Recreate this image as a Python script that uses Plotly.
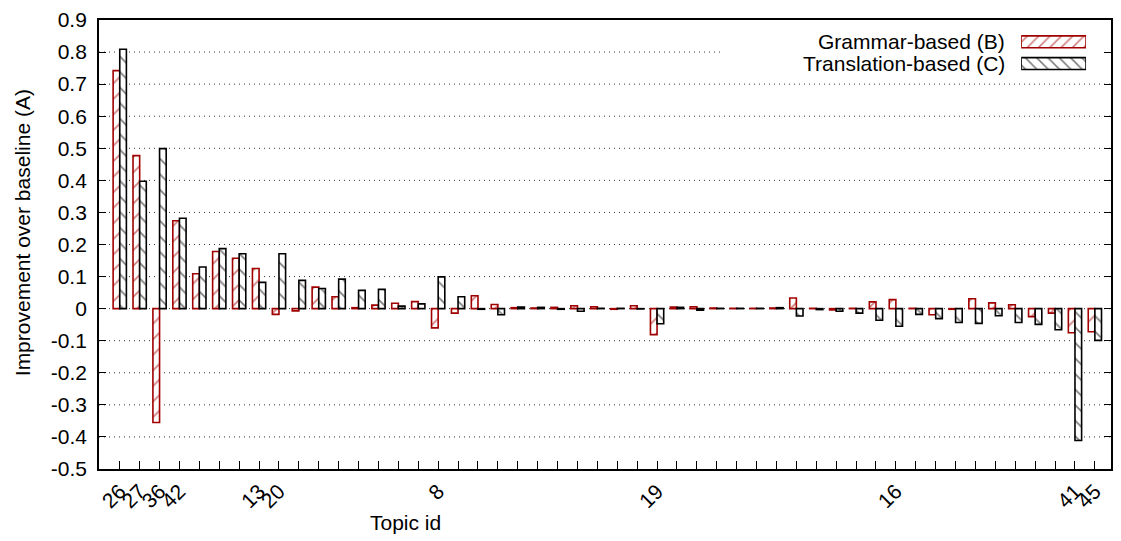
import plotly.graph_objects as go

# ---------------- data ----------------
positions = list(range(50))
topic_labels = ["26", "27", "36", "42", "", "", "", "13", "20", "",
                "", "", "", "", "", "", "8", "", "", "",
                "", "", "", "", "", "", "", "19", "", "",
                "", "", "", "", "", "", "", "", "", "16",
                "", "", "", "", "", "", "", "", "41", "45"]
grammar_b = [0.742, 0.477, -0.355, 0.274, 0.109, 0.178, 0.157, 0.125, -0.018, -0.007,
             0.067, 0.037, 0.003, 0.011, 0.017, 0.022, -0.060, -0.014, 0.040, 0.013,
             0.003, 0.002, 0.004, 0.009, 0.006, -0.002, 0.009, -0.081, 0.005, 0.006,
             0.002, 0.001, 0.001, 0.002, 0.033, 0.001, -0.004, 0.001, 0.021, 0.028,
             0.001, -0.019, -0.002, 0.031, 0.018, 0.012, -0.025, -0.014, -0.075, -0.072]
translation_c = [0.809, 0.397, 0.499, 0.282, 0.130, 0.187, 0.171, 0.082, 0.171, 0.088,
                 0.063, 0.092, 0.057, 0.060, 0.008, 0.015, 0.099, 0.037, -0.002, -0.019,
                 0.005, 0.004, -0.002, -0.008, 0.001, 0.001, -0.001, -0.047, 0.004, -0.005,
                 0.001, 0.001, 0.001, 0.003, -0.023, -0.003, -0.008, -0.014, -0.036, -0.055,
                 -0.018, -0.031, -0.043, -0.046, -0.022, -0.043, -0.049, -0.066, -0.411, -0.099]
series_names = ["Grammar-based (B)", "Translation-based (C)"]
ytick_vals = [0.9, 0.8, 0.7, 0.6, 0.5, 0.4, 0.3, 0.2, 0.1, 0.0,
              -0.1, -0.2, -0.3, -0.4, -0.5]
ytick_text = ["0.9", "0.8", "0.7", "0.6", "0.5", "0.4", "0.3", "0.2", "0.1", "0",
              "-0.1", "-0.2", "-0.3", "-0.4", "-0.5"]

# ---------------- style ----------------
RED = "#a00000"
BLACK = "#000000"
FONT = "Liberation Sans, Arial, Helvetica, sans-serif"
FS = 21
W, H = 1121, 541
ML, MR, MT, MB = 99, 8, 18, 72
PW, PH = W - ML - MR, H - MT - MB


def px(x):
    return (x - ML) / PW


def py(y):
    return (H - MB - y) / PH


fig = go.Figure()
styles = [(RED, "/"), (BLACK, "\\")]
for name, vals, (col, shp) in zip(series_names, [grammar_b, translation_c], styles):
    fig.add_trace(go.Bar(
        x=positions, y=vals, name=name, showlegend=False,
        marker=dict(color="white", line=dict(color=col, width=1.6),
                    pattern=dict(shape=shp, fgcolor=col, bgcolor="white",
                                 size=11, solidity=0.16)),
    ))

# legend swatches on an overlay axis
for i, (name, (col, shp)) in enumerate(zip(series_names, styles)):
    fig.add_trace(go.Bar(
        x=[1], y=[i], orientation="h", width=0.55, base=0,
        xaxis="x2", yaxis="y2", showlegend=False, hoverinfo="skip",
        marker=dict(color="white", line=dict(color=col, width=1.6),
                    pattern=dict(shape=shp, fgcolor=col, bgcolor="white",
                                 size=8, solidity=0.2)),
    ))

shapes = []
for v in ytick_vals[1:-1]:
    x1 = px(725) if abs(v - 0.8) < 1e-9 else 1
    shapes.append(dict(type="line", xref="paper", yref="y", x0=0, x1=x1, y0=v, y1=v,
                       line=dict(color="#333333", width=1, dash="1px,4px"), layer="below"))

annotations = [
    dict(text=series_names[0], x=px(1009), y=py(40), xref="paper", yref="paper",
         xanchor="right", yanchor="middle", showarrow=False, font=dict(size=FS)),
    dict(text=series_names[1], x=px(1009), y=py(62), xref="paper", yref="paper",
         xanchor="right", yanchor="middle", showarrow=False, font=dict(size=FS)),
    dict(text="Improvement over baseline (A)", x=px(22), y=py(232), xref="paper", yref="paper",
         xanchor="center", yanchor="middle", textangle=-90, showarrow=False, font=dict(size=FS)),
    dict(text="Topic id", x=px(406), y=py(523), xref="paper", yref="paper",
         xanchor="center", yanchor="middle", showarrow=False, font=dict(size=FS)),
]

fig.update_layout(
    width=W, height=H,
    margin=dict(l=ML, r=MR, t=MT, b=MB, pad=0),
    paper_bgcolor="white", plot_bgcolor="white",
    font=dict(family=FONT, size=FS, color="black"),
    barmode="group", bargap=1 / 3, bargroupgap=0,
    showlegend=False,
    shapes=shapes, annotations=annotations,
    xaxis=dict(range=[-1.043, 49.81], tickmode="array", tickvals=positions,
               ticktext=topic_labels, tickangle=-45, ticks="inside", ticklen=8,
               tickwidth=1, tickcolor="black", showline=True, linecolor="black",
               linewidth=1.8, mirror=True, showgrid=False, zeroline=False,
               tickfont=dict(size=FS)),
    yaxis=dict(range=[-0.5, 0.9], tickmode="array", tickvals=ytick_vals,
               ticktext=ytick_text, ticks="inside", ticklen=7, tickwidth=1,
               tickcolor="black", showline=True, linecolor="black", linewidth=1.8,
               mirror="ticks", showgrid=False, zeroline=False,
               ticklabelstandoff=6, tickfont=dict(size=FS)),
    xaxis2=dict(domain=[px(1023), px(1088)], range=[0, 1], visible=False,
                anchor="y2", fixedrange=True),
    yaxis2=dict(domain=[py(72.7), py(29)], range=[1.5, -0.5], visible=False,
                anchor="x2", fixedrange=True),
)

fig.write_html("out.html")
